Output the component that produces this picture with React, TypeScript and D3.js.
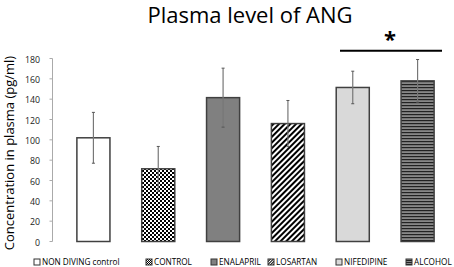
import React from "react";
import * as d3 from "d3";

const categories = ["NON DIVING control", "CONTROL", "ENALAPRIL", "LOSARTAN", "NIFEDIPINE", "ALCOHOL"];
const means = [102, 71.5, 141.5, 116, 151.5, 158];
const errors = [25, 22, 29, 22.7, 16, 21];
const yTicks = [0, 20, 40, 60, 80, 100, 120, 140, 160, 180];
const fills = ["#ffffff", "url(#checker)", "#808080", "url(#diag)", "#d9d9d9", "url(#hlines)"];
const legendX = [34, 146, 211, 268, 336, 406];

const W = 454, H = 267;

export default function App() {
  const x = d3.scaleBand<string>().domain(categories).range([61, 450]).paddingInner(0.49).paddingOuter(0.245);
  const y = d3.scaleLinear().domain([0, 180]).range([241.5, 58.5]);
  const font = "'Open Sans', sans-serif";
  return (
    <svg width={W} height={H} style={{ position: "absolute", left: 0, top: 0, background: "#fff" }}>
      <defs>
        <pattern id="checker" width="4" height="4" patternUnits="userSpaceOnUse">
          <rect width="4" height="4" fill="#fff" />
          <rect width="2" height="2" fill="#000" />
          <rect x="2" y="2" width="2" height="2" fill="#000" />
        </pattern>
        <pattern id="diag" width="4" height="4" patternUnits="userSpaceOnUse" patternTransform="rotate(45)">
          <rect width="4" height="4" fill="#fff" />
          <rect width="2" height="4" fill="#000" />
        </pattern>
        <pattern id="hlines" width="4" height="3" patternUnits="userSpaceOnUse">
          <rect width="4" height="3" fill="#888" />
          <rect width="4" height="1.2" fill="#222" />
        </pattern>
        <pattern id="checkerS" width="2" height="2" patternUnits="userSpaceOnUse">
          <rect width="2" height="2" fill="#fff" />
          <rect width="1" height="1" fill="#000" />
          <rect x="1" y="1" width="1" height="1" fill="#000" />
        </pattern>
        <pattern id="diagS" width="2" height="2" patternUnits="userSpaceOnUse" patternTransform="rotate(45)">
          <rect width="2" height="2" fill="#fff" />
          <rect width="1" height="2" fill="#000" />
        </pattern>
        <pattern id="hlinesS" width="2" height="2" patternUnits="userSpaceOnUse">
          <rect width="2" height="2" fill="#888" />
          <rect width="2" height="1" fill="#222" />
        </pattern>
      </defs>
      <text x={250} y={23} textAnchor="middle" fontFamily={font} fontSize={22} fill="#000">Plasma level of ANG</text>
      <text transform={`translate(13.5,${153}) rotate(-90)`} textAnchor="middle" fontFamily={font} fontSize={13} fill="#000">Concentration  in plasma  (pg/ml)</text>
      <line x1={52.5} x2={52.5} y1={y(180)} y2={y(0)} stroke="#aaa" strokeWidth={1} />
      {yTicks.map((t) => (
        <g key={t}>
          <line x1={49.5} x2={52.5} y1={y(t)} y2={y(t)} stroke="#aaa" />
          <text x={40} y={y(t) + 1} dy="0.35em" textAnchor="end" fontFamily={font} fontSize={8.8} fill="#222">{t}</text>
        </g>
      ))}
      {categories.map((c, i) => {
        const bx = x(c)!;
        const bw = x.bandwidth();
        const cx = bx + bw / 2;
        return (
          <g key={c}>
            <rect x={bx} y={y(means[i])} width={bw} height={y(0) - y(means[i])} fill={fills[i]} stroke="#404040" strokeWidth={1.5} />
            <line x1={cx} x2={cx} y1={y(means[i] + errors[i])} y2={y(means[i] - errors[i])} stroke="#777" strokeWidth={1.2} />
            <line x1={cx - 1.5} x2={cx + 1.5} y1={y(means[i] + errors[i])} y2={y(means[i] + errors[i])} stroke="#555" strokeWidth={1} />
            <line x1={cx - 1.5} x2={cx + 1.5} y1={y(means[i] - errors[i])} y2={y(means[i] - errors[i])} stroke="#555" strokeWidth={1} />
          </g>
        );
      })}
      <line x1={340} x2={442} y1={50.7} y2={50.7} stroke="#000" strokeWidth={2} />
      <text x={390} y={47} textAnchor="middle" fontFamily={font} fontSize={22} fontWeight="bold" fill="#000">*</text>
      {categories.map((c, i) => {
        const lf = ["#fff", "url(#checkerS)", "#808080", "url(#diagS)", "#d9d9d9", "url(#hlinesS)"][i];
        return (
          <g key={"l" + c}>
            <rect x={legendX[i]} y={259} width={6} height={6} fill={lf} stroke="#333" strokeWidth={1} />
            <text x={legendX[i] + 8} y={262} dy="0.35em" fontFamily={font} fontSize={8.2} fill="#000">{c}</text>
          </g>
        );
      })}
    </svg>
  );
}
